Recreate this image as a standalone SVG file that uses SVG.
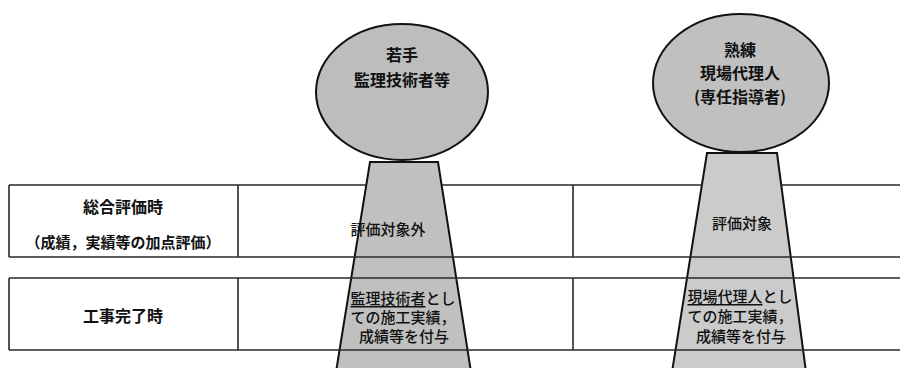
<svg xmlns="http://www.w3.org/2000/svg" width="900" height="368" viewBox="0 0 900 368">
<style>
text{font-family:"Noto Sans CJK JP","Noto Sans CJK SC",sans-serif;font-size:16px;fill:#111;text-anchor:middle;dominant-baseline:central}
.b{font-weight:700}
.s{font-size:15px;font-weight:500}
.ln{stroke:#2a2a2a;stroke-width:1.6;fill:none}
.fig{stroke:#111;stroke-width:2}
.u{text-decoration:underline}
</style>
<rect width="900" height="368" fill="#fff"/>
<g id="stem1"><polygon class="fig" points="370,162 438,162 471,372 336,372" fill="#c0c0c0"/></g>
<g id="stem2"><polygon class="fig" points="707,153 777,153 806,372 672,372" fill="#cbcbcb"/></g>
<g id="table">
<path class="ln" d="M9,185H366M442,185H703M781,185H900"/>
<path class="ln" d="M9,257H900M9,278H900M9,350H900"/>
<path class="ln" d="M9,185V257M238,185V257M573,185V257M9,278V350M238,278V350M573,278V350"/>
</g>
<g id="circle1"><ellipse class="fig" cx="402" cy="92" rx="86" ry="68" fill="#bdbdbd"/>
<text class="b" x="402"><tspan x="402" y="54">若手</tspan><tspan x="402" y="79">監理技術者等</tspan></text></g>
<g id="circle2"><ellipse class="fig" cx="741" cy="83" rx="88" ry="69" fill="#c0c0c0"/>
<text class="b"><tspan x="740" y="49">熟練</tspan><tspan x="740" y="72">現場代理人</tspan><tspan x="740" y="96">(専任指導者)</tspan></text></g>
<g id="row1">
<text class="b" x="123" y="206">総合評価時</text>
<text class="b" x="123" y="241" style="font-size:15px">（成績，実績等の加点評価）</text>
<text class="s" x="388" y="228">評価対象外</text>
<text class="s" x="742" y="222">評価対象</text>
</g>
<g id="row2">
<text class="b" x="123" y="315">工事完了時</text>
<text class="s"><tspan x="403" y="297"><tspan class="u">監理技術者</tspan>とし</tspan><tspan x="403" y="316">ての施工実績，</tspan><tspan x="404" y="335">成績等を付与</tspan></text>
<text class="s"><tspan x="740" y="295"><tspan class="u">現場代理人</tspan>とし</tspan><tspan x="740" y="315">ての施工実績，</tspan><tspan x="741" y="335">成績等を付与</tspan></text>
</g>
</svg>
